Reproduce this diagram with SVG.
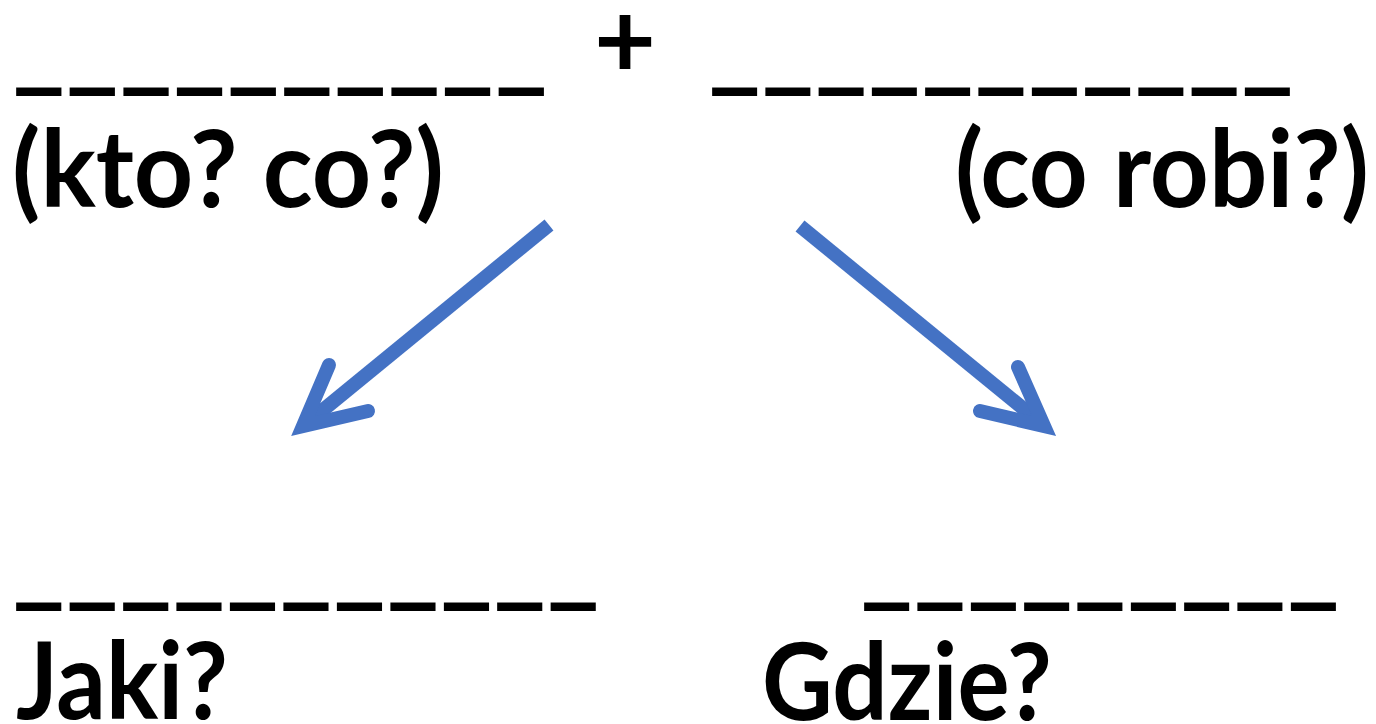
<svg xmlns="http://www.w3.org/2000/svg" width="1376" height="724" viewBox="0 0 1376 724">
<style>
.t{font-family:Lato,"Open Sans","Liberation Sans",sans-serif;font-weight:bold;font-size:107px;fill:#000}
.a{fill:none;stroke:#4472C4;stroke-width:14}
.h{fill:none;stroke:#4472C4;stroke-width:14;stroke-linecap:round;stroke-linejoin:miter;stroke-miterlimit:10}
</style>
<rect width="1376" height="724" fill="#fff"/>
<g id="subject">
<text class="t" x="12" y="80" textLength="536" lengthAdjust="spacingAndGlyphs">__________</text>
<text class="t" x="12" y="207" textLength="432" lengthAdjust="spacingAndGlyphs">(kto? co?)</text>
</g>
<g id="plus">
<text class="t" x="625" y="78" text-anchor="middle">+</text>
</g>
<g id="predicate">
<text class="t" x="708" y="80" textLength="586" lengthAdjust="spacingAndGlyphs">___________</text>
<text class="t" x="955" y="207" textLength="414" lengthAdjust="spacingAndGlyphs">(co robi?)</text>
</g>
<g id="attribute">
<text class="t" x="12" y="595" textLength="588" lengthAdjust="spacingAndGlyphs">___________</text>
<text class="t" x="16" y="719" textLength="212" lengthAdjust="spacingAndGlyphs">Jaki?</text>
</g>
<g id="adverbial">
<text class="t" x="860" y="595" textLength="480" lengthAdjust="spacingAndGlyphs">_________</text>
<text class="t" x="762" y="720" textLength="290" lengthAdjust="spacingAndGlyphs">Gdzie?</text>
</g>
<g id="connectors">
<line class="a" x1="549" y1="225" x2="312" y2="419"/>
<path class="h" d="M329,365 L303,426 L368,411"/>
<line class="a" x1="800" y1="226" x2="1036" y2="419"/>
<path class="h" d="M1018,367 L1044,426 L980,411"/>
</g>
</svg>
